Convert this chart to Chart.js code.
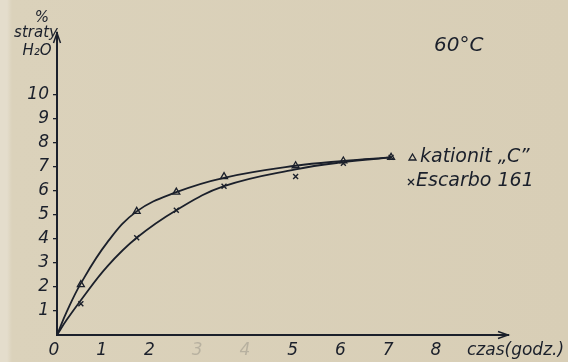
<!DOCTYPE html>
<html>
<head>
<meta charset="utf-8">
<script src="https://cdn.jsdelivr.net/npm/chart.js@4.4.0/dist/chart.umd.min.js"></script>
<style>
  html, body { margin: 0; padding: 0; }
  body {
    width: 568px; height: 362px; overflow: hidden;
    background: linear-gradient(to right, #e4ddcc 0px, #e4ddcc 7px, #dbd2bb 12px, #d8ceb6 100%);
  }
  #wrap { position: relative; width: 568px; height: 362px; }
</style>
</head>
<body>
<div id="wrap"><canvas id="chart" width="568" height="362"></canvas></div>
<script>
// measured points: time in hours, % straty H2O
const pointHours = [0.5, 1.67, 2.5, 3.5, 5, 6, 7];
const kationitPoints = [2.1, 5.15, 5.95, 6.6, 7.05, 7.25, 7.4];
const escarboPoints = [1.3, 4.05, 5.2, 6.2, 6.6, 7.15, 7.4];
// hand drawn curves
const curveHours = [0, 0.2, 0.5, 1.05, 1.67, 2.5, 3.5, 5, 6, 7];
const kationitCurve = [0, 0.95, 2.15, 3.85, 5.15, 5.95, 6.55, 7.05, 7.25, 7.4];
const escarboCurve = [0, 0.62, 1.45, 2.85, 4.05, 5.2, 6.2, 6.9, 7.2, 7.4];
// axis ticks
const xTicks = [0, 1, 2, 3, 4, 5, 6, 7, 8];
const fadedXTicks = [3, 4];
const yTicks = [1, 2, 3, 4, 5, 6, 7, 8, 9, 10];

const ink = '#1b202b';

function toXY(xs, ys) {
    return xs.map((h, i) => ({ x: h, y: ys[i] }));
}

// arrows, axis captions and labels near the curves
const decorations = {
    id: 'decorations',
    afterDraw(chart) {
        const { ctx, scales: { x, y } } = chart;
        const x0 = x.getPixelForValue(0);
        const y0 = y.getPixelForValue(0);
        const xEnd = x.getPixelForValue(x.max);
        const yTop = y.getPixelForValue(y.max);

        ctx.save();
        ctx.strokeStyle = ink;
        ctx.fillStyle = ink;
        ctx.lineWidth = 1.5;

        // arrow heads
        ctx.beginPath();
        ctx.moveTo(xEnd - 10, y0 - 3.5);
        ctx.lineTo(xEnd, y0);
        ctx.lineTo(xEnd - 10, y0 + 3.5);
        ctx.stroke();
        ctx.beginPath();
        ctx.moveTo(x0 - 3.5, yTop + 10);
        ctx.lineTo(x0, yTop);
        ctx.lineTo(x0 + 3.5, yTop + 10);
        ctx.stroke();

        ctx.textBaseline = 'middle';
        ctx.textAlign = 'center';
        ctx.font = 'italic 15px "DejaVu Sans"';
        ctx.fillText('%', 42, 18);
        ctx.fillText('straty', 36, 33);
        ctx.fillText('H\u2082O', 37, 51);

        ctx.textAlign = 'left';
        ctx.font = 'italic 20px "DejaVu Sans"';
        ctx.fillText('60°C', 434, 46);

        ctx.font = 'italic 17px "DejaVu Sans"';
        ctx.fillText('czas(godz.)', 467, 351);

        // curve labels
        ctx.font = 'italic 19px "DejaVu Sans"';
        ctx.lineWidth = 1.3;
        ctx.beginPath();
        ctx.moveTo(409, 160);
        ctx.lineTo(416, 160);
        ctx.lineTo(412.5, 154);
        ctx.closePath();
        ctx.stroke();
        ctx.fillText('kationit \u201eC\u201d', 420, 157);
        ctx.beginPath();
        ctx.moveTo(408, 179); ctx.lineTo(414, 185);
        ctx.moveTo(414, 179); ctx.lineTo(408, 185);
        ctx.stroke();
        ctx.fillText('Escarbo 161', 416, 181);
        ctx.restore();
    }
};

new Chart(document.getElementById('chart'), {
    type: 'line',
    data: {
        datasets: [
            {
                label: 'kationit „C” curve',
                data: toXY(curveHours, kationitCurve),
                borderColor: ink,
                borderWidth: 1.8,
                pointRadius: 0,
                tension: 0.4,
                fill: false
            },
            {
                label: 'Escarbo 161 curve',
                data: toXY(curveHours, escarboCurve),
                borderColor: ink,
                borderWidth: 1.8,
                pointRadius: 0,
                tension: 0.4,
                fill: false
            },
            {
                label: 'kationit „C”',
                data: toXY(pointHours, kationitPoints),
                showLine: false,
                pointStyle: 'triangle',
                pointRadius: 4,
                pointBorderWidth: 1.3,
                pointBorderColor: ink,
                pointBackgroundColor: 'rgba(0,0,0,0)'
            },
            {
                label: 'Escarbo 161',
                data: toXY(pointHours, escarboPoints),
                showLine: false,
                pointStyle: 'crossRot',
                pointRadius: 3.5,
                pointBorderWidth: 1.4,
                pointBorderColor: ink
            }
        ]
    },
    options: {
        responsive: false,
        animation: false,
        layout: { padding: { top: 33, right: 60, left: 0, bottom: 0 } },
        plugins: {
            legend: { display: false },
            tooltip: { enabled: false }
        },
        scales: {
            x: {
                type: 'linear',
                min: 0,
                max: 9.45,
                afterBuildTicks: scale => { scale.ticks = xTicks.map(v => ({ value: v })); },
                afterFit: scale => { scale.height = 27; },
                grid: { display: false, tickLength: 0 },
                border: { display: true, color: ink, width: 2 },
                ticks: {
                    padding: 5,
                    labelOffset: -3,
                    maxRotation: 0,
                    autoSkip: false,
                    font: { family: 'DejaVu Sans', style: 'italic', size: 17 },
                    color: ctx => fadedXTicks.includes(ctx.tick.value) ? 'rgba(27,32,43,0.18)' : ink
                }
            },
            y: {
                type: 'linear',
                min: 0,
                max: 12.58,
                afterBuildTicks: scale => { scale.ticks = yTicks.map(v => ({ value: v })); },
                afterFit: scale => { scale.width = 57; },
                grid: { display: true, drawOnChartArea: false, drawTicks: true, tickLength: 4, color: ink, lineWidth: 1.3 },
                border: { display: true, color: ink, width: 2 },
                ticks: {
                    padding: 4,
                    autoSkip: false,
                    font: { family: 'DejaVu Sans', style: 'italic', size: 17 },
                    color: ink
                }
            }
        }
    },
    plugins: [decorations]
});
</script>
</body>
</html>
